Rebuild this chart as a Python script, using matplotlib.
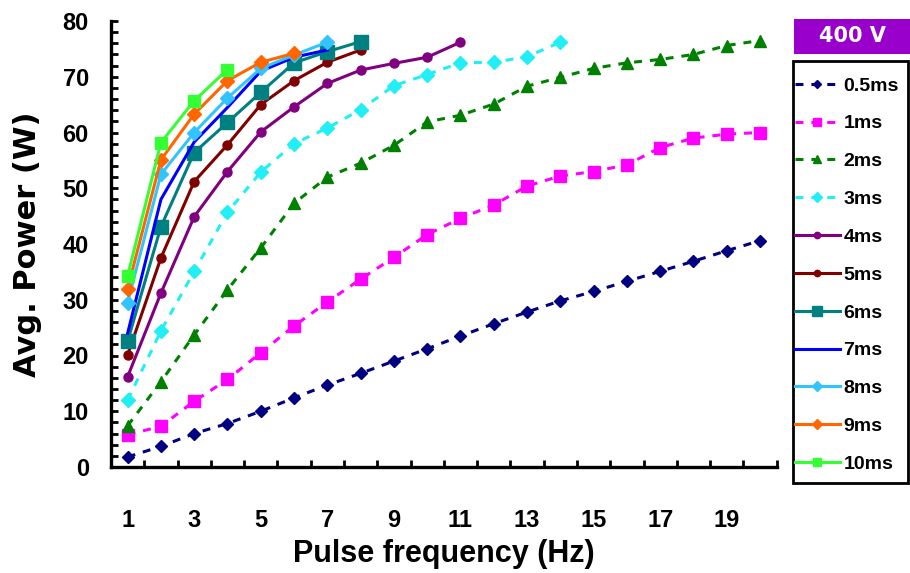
import matplotlib
matplotlib.use("Agg")
import matplotlib.pyplot as plt
from matplotlib.patches import Rectangle
from matplotlib.ticker import MultipleLocator, FixedLocator

freq = list(range(1, 21))
labels = ["0.5ms", "1ms", "2ms", "3ms", "4ms", "5ms", "6ms", "7ms", "8ms", "9ms", "10ms"]

p05 = [1.8, 3.7, 6.0, 7.8, 10.0, 12.4, 14.7, 16.8, 19.0, 21.2, 23.5, 25.7, 27.8, 29.8, 31.5, 33.3, 35.1, 36.9, 38.8, 40.6]
p1 = [5.8, 7.3, 11.8, 15.7, 20.5, 25.3, 29.6, 33.7, 37.6, 41.7, 44.6, 47.0, 50.4, 52.2, 53.0, 54.2, 57.3, 59.0, 59.7, 60.0]
p2 = [7.4, 15.3, 23.7, 31.8, 39.3, 47.3, 52.0, 54.5, 57.7, 61.9, 63.1, 65.1, 68.3, 69.9, 71.5, 72.5, 73.1, 74.0, 75.6, 76.5]
p3 = [12.0, 24.4, 35.1, 45.7, 52.9, 58.0, 60.8, 64.1, 68.4, 70.4, 72.5, 72.6, 73.6, 76.2]
p4 = [16.2, 31.2, 44.9, 53.0, 60.1, 64.6, 68.8, 71.2, 72.4, 73.5, 76.2]
p5 = [20.1, 37.5, 51.2, 57.8, 65.0, 69.3, 72.6, 74.8]
p6 = [22.6, 43.1, 56.4, 61.8, 67.2, 72.5, 74.5, 76.3]
p7 = [24.0, 48.0, 58.3, 64.5, 71.0, 73.5, 74.8]
p8 = [29.5, 52.5, 60.0, 66.2, 71.5, 73.9, 76.2]
p9 = [32.0, 55.1, 63.3, 69.3, 72.6, 74.2]
p10 = [34.3, 58.2, 65.7, 71.3]

series = [p05, p1, p2, p3, p4, p5, p6, p7, p8, p9, p10]
colors = ["#000080", "#FF00FF", "#008000", "#22EEF5", "#800080", "#800000",
          "#008080", "#0000FF", "#33C4FF", "#FF6600", "#33FF33"]
markers = ["D", "s", "^", "D", "o", "o", "s", None, "D", "D", "s"]
msizes = [6.5, 8.5, 9, 7, 6.5, 6.5, 10, 0, 7, 7, 9]
dashed = [True, True, True, True, False, False, False, False, False, False, False]

sans = ["Liberation Sans", "DejaVu Sans"]

fig = plt.figure(figsize=(9.10, 5.73), dpi=100)
ax = fig.add_axes([111 / 910, 1 - 467 / 573, (776.7 - 111) / 910, (467 - 21) / 573])

lw = 2.2
for vals, c, m, ms, d, lab in zip(series, colors, markers, msizes, dashed, labels):
    x = freq[:len(vals)]
    kw = dict(color=c, lw=lw, label=lab, markersize=ms, markeredgecolor=c, markerfacecolor=c)
    if m:
        kw["marker"] = m
    if d:
        kw["linestyle"] = (0, (2.6, 2.6))
        kw["dash_capstyle"] = "butt"
    ax.plot(x, vals, **kw)

ax.set_xlim(0.5, 20.5)
ax.set_ylim(0, 80)
ax.xaxis.set_major_locator(FixedLocator([1, 3, 5, 7, 9, 11, 13, 15, 17, 19]))
ax.xaxis.set_minor_locator(FixedLocator([v + 0.5 for v in range(0, 21)]))
ax.yaxis.set_major_locator(MultipleLocator(10))
ax.yaxis.set_minor_locator(MultipleLocator(2))

for s in ["top", "right"]:
    ax.spines[s].set_visible(False)
for s in ["left", "bottom"]:
    ax.spines[s].set_linewidth(2.4)
    ax.spines[s].set_color("black")

ax.tick_params(axis="x", which="major", length=0, pad=30)
ax.tick_params(axis="x", which="minor", direction="in", length=5, width=2)
ax.tick_params(axis="y", which="both", direction="in", length=5, width=2, pad=16)

for t in ax.get_xticklabels():
    t.set_fontfamily(sans)
    t.set_fontweight("bold")
    t.set_fontsize(17)
for t in ax.get_yticklabels():
    t.set_fontfamily(sans)
    t.set_fontweight("bold")
    t.set_fontsize(17)

ax.set_xlabel("Pulse frequency (Hz)", fontsize=22, fontweight="bold", family=sans, labelpad=5)
ax.set_ylabel("Avg. Power (W)", fontsize=22, fontweight="bold", family=["DejaVu Sans"], labelpad=15)

leg = fig.legend(loc="upper left", bbox_to_anchor=(795 / 910, 1 - 77 / 573),
                 bbox_transform=fig.transFigure, frameon=False,
                 prop={"family": sans, "weight": "bold", "size": 14},
                 handlelength=2.3, handletextpad=0.2, labelspacing=1.04,
                 borderpad=0, borderaxespad=0, markerscale=0.7)

fig.patches.append(Rectangle((792.7 / 910, 1 - 483 / 573), 115 / 910, 422 / 573,
                             transform=fig.transFigure, facecolor="none",
                             edgecolor="black", linewidth=2))
fig.patches.append(Rectangle((794 / 910, 1 - 54 / 573), 116 / 910, 35 / 573,
                             transform=fig.transFigure, facecolor="#9900CC",
                             edgecolor="none"))
fig.text(852 / 910, 1 - 36.5 / 573, "400 V", color="white", fontsize=15,
         fontweight="bold", ha="center", va="center", family=["DejaVu Sans"])

fig.savefig("out.png", dpi=100)
